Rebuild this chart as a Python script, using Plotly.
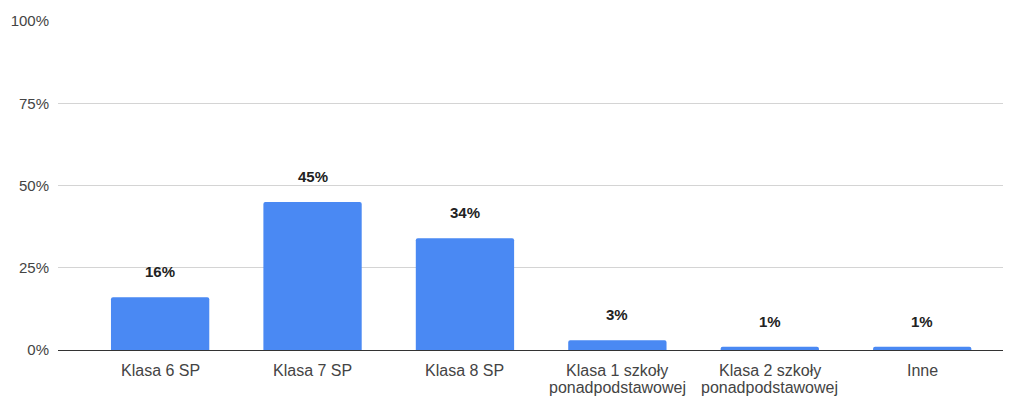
import plotly.graph_objects as go

categories = [
    "Klasa 6 SP",
    "Klasa 7 SP",
    "Klasa 8 SP",
    "Klasa 1 szkoły<br>ponadpodstawowej",
    "Klasa 2 szkoły<br>ponadpodstawowej",
    "Inne",
]
values = [16, 45, 34, 3, 1, 1]
y_ticks = [0, 25, 50, 75, 100]

FONT = "Liberation Sans, Arial, sans-serif"
BAR_COLOR = "#4a89f3"
LABEL_COLOR = "#444444"

fig = go.Figure()
fig.add_trace(go.Bar(
    x=list(range(len(categories))),
    y=values,
    marker=dict(color=BAR_COLOR, line=dict(width=0)),
    width=0.645,
    hoverinfo="skip",
))

# value labels above the bars
for i, v in enumerate(values):
    fig.add_annotation(
        x=i, y=v, text=f"<b>{v}%</b>", showarrow=False,
        yanchor="bottom", yshift=15,
        font=dict(family=FONT, size=15, color="#222222"),
    )

# category labels, one annotation per line for tight line spacing
for i, cat in enumerate(categories):
    for j, line in enumerate(cat.split("<br>")):
        fig.add_annotation(
            x=i, xref="x", y=0, yref="paper", text=line, showarrow=False,
            yanchor="middle", yshift=-20 - 17 * j,
            font=dict(family=FONT, size=16, color=LABEL_COLOR),
        )

fig.update_layout(
    width=1016, height=396,
    margin=dict(l=58, r=13, t=21, b=46),
    paper_bgcolor="white", plot_bgcolor="white",
    showlegend=False,
    barcornerradius=2,
    font=dict(family=FONT, size=15, color=LABEL_COLOR),
)
fig.update_xaxes(
    range=[-0.67, 5.53],
    showgrid=False, zeroline=False,
    showline=False, automargin=False,
    showticklabels=False, ticks="",
)
fig.update_yaxes(
    range=[0, 100],
    tickmode="array",
    tickvals=y_ticks,
    ticktext=[f"{t}%" for t in y_ticks],
    showgrid=True, gridcolor="#d4d4d4", gridwidth=1,
    zeroline=True, zerolinecolor="#333333", zerolinewidth=1,
    automargin=False,
    ticks="outside", ticklen=5, tickcolor="rgba(0,0,0,0)",
    tickfont=dict(family=FONT, size=15, color=LABEL_COLOR),
)

fig.write_html("out.html")
